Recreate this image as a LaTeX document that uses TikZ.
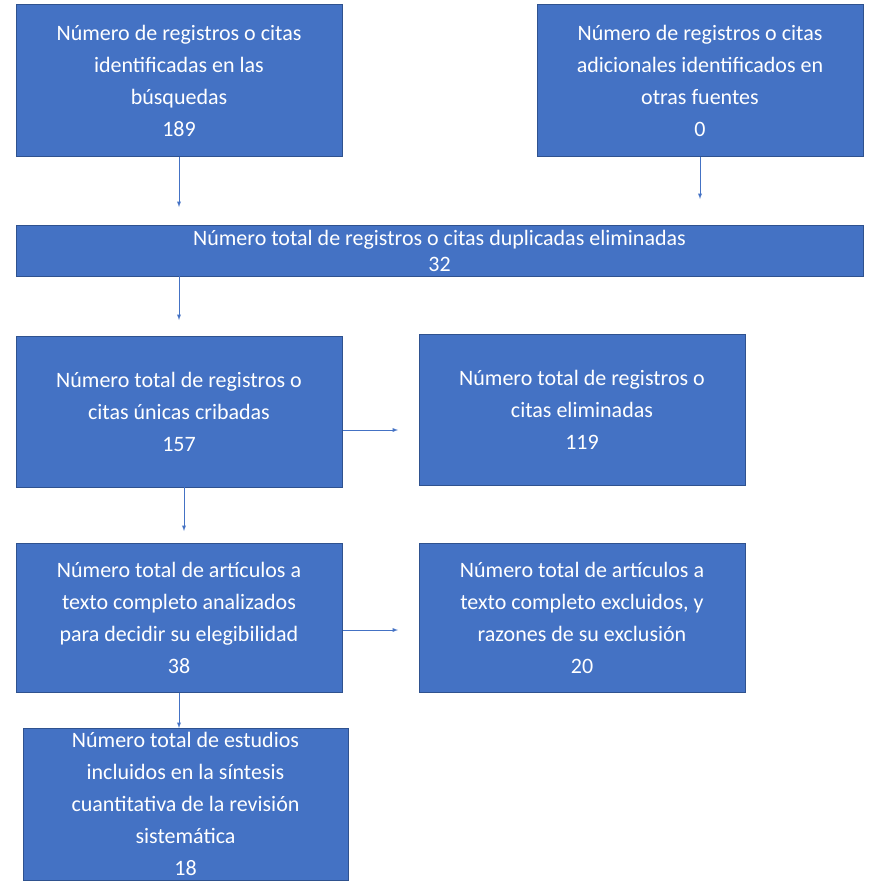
\documentclass[tikz,border=0pt]{standalone}
\usepackage{fontspec}
\setmainfont{Carlito}
\usetikzlibrary{calc}
\definecolor{boxfill}{HTML}{4472C4}
\definecolor{boxline}{HTML}{2F528F}

\begin{document}
\begin{tikzpicture}[x=1pt,y=-1pt,
    box/.style={draw=boxline,fill=boxfill,text=white,line width=1pt,align=center,
      inner sep=0pt,font=\fontsize{22}{32}\selectfont},
    flow/.style={->,draw=boxfill,line width=0.9pt,>=latex}]
  \useasboundingbox (0,0) rectangle (885,883);

  \node[box,minimum width=326pt,minimum height=151pt] (found) at (179,80.5)
    {Número de registros o citas\\identificadas en las\\búsquedas\\189};
  \node[box,minimum width=326pt,minimum height=151pt] (other) at (700,80.5)
    {Número de registros o citas\\adicionales identificados en\\otras fuentes\\0};
  \node[box,minimum width=847pt,minimum height=51pt] (dupl) at (439.5,250.5)
    {Número total de registros o citas duplicadas eliminadas\\[-6pt]32};
  \node[box,minimum width=326pt,minimum height=151pt] (screen) at (179,411.5)
    {Número total de registros o\\citas únicas cribadas\\157};
  \node[box,minimum width=326pt,minimum height=151pt] (removed) at (582,409.5)
    {Número total de registros o\\citas eliminadas\\119};
  \node[box,minimum width=326pt,minimum height=149pt] (full) at (179,617.5)
    {Número total de artículos a\\texto completo analizados\\para decidir su elegibilidad\\38};
  \node[box,minimum width=326pt,minimum height=149pt] (excl) at (582,617.5)
    {Número total de artículos a\\texto completo excluidos, y\\razones de su exclusión\\20};
  \node[box,minimum width=325pt,minimum height=152pt] (incl) at (185.5,804)
    {Número total de estudios\\incluidos en la síntesis\\cuantitativa de la revisión\\sistemática\\18};

  \coordinate (e1) at (179,207);
  \coordinate (e2) at (700,199);
  \coordinate (e3) at (179,320);
  \coordinate (e4) at (398,430);
  \coordinate (e5) at (184,531);
  \coordinate (e6) at (398,630);

  \draw[flow] (found.south) -- (e1);
  \draw[flow] (other.south) -- (e2);
  \draw[flow] (179,276) -- (e3);
  \draw[flow] (screen.east |- e4) -- (e4);
  \draw[flow] (184,487) -- (e5);
  \draw[flow] (full.east |- e6) -- (e6);
  \draw[flow] (full.south) -- (179,728);
\end{tikzpicture}
\end{document}
